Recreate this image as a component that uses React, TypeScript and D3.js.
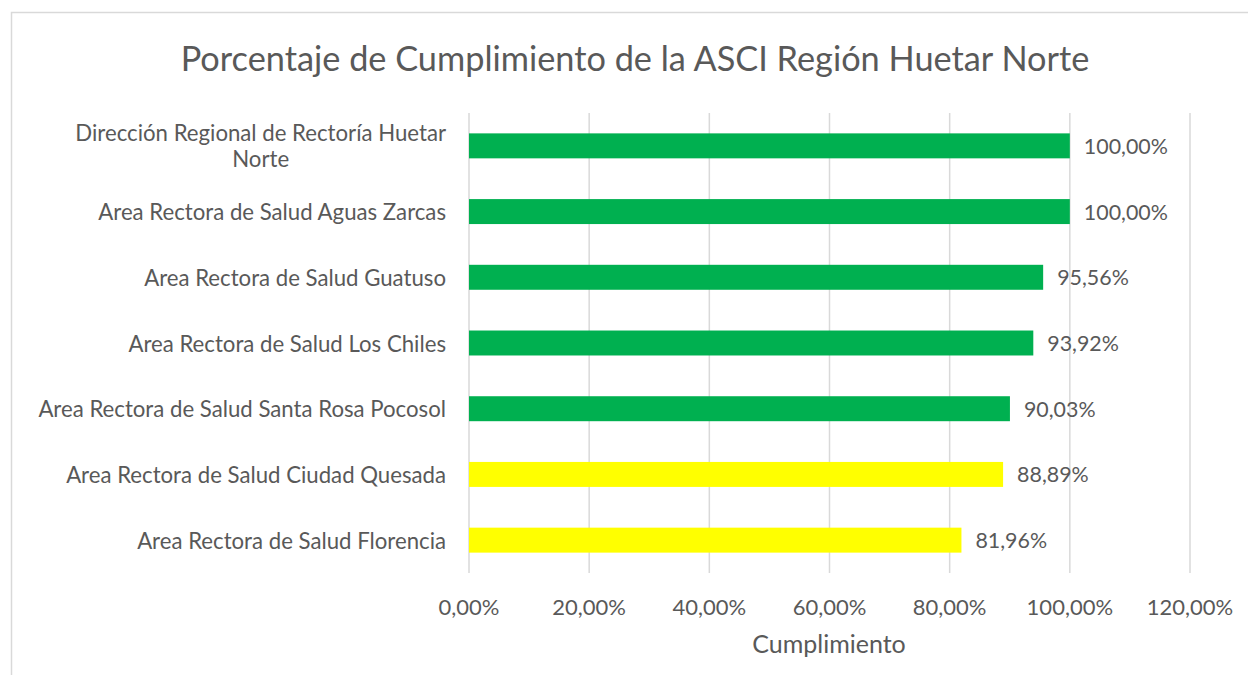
import React from "react";
import * as d3 from "d3";

const categories: string[] = [
  "Dirección Regional de Rectoría Huetar\nNorte",
  "Area Rectora de Salud Aguas Zarcas",
  "Area Rectora de Salud Guatuso",
  "Area Rectora de Salud Los Chiles",
  "Area Rectora de Salud Santa Rosa Pocosol",
  "Area Rectora de Salud Ciudad Quesada",
  "Area Rectora de Salud Florencia",
];
const values: number[] = [100.0, 100.0, 95.56, 93.92, 90.03, 88.89, 81.96];
const barColors: string[] = ["#00b050", "#00b050", "#00b050", "#00b050", "#00b050", "#ffff00", "#ffff00"];
const xTicks: number[] = [0, 20, 40, 60, 80, 100, 120];
const title = "Porcentaje de Cumplimiento de la ASCI Región Huetar Norte";
const xAxisTitle = "Cumplimiento";

const W = 1248;
const H = 675;
const FONT = "Lato, 'Open Sans', sans-serif";
const TEXT = "#595959";
const LABEL_SIZE = 22.2;
const TICK_SIZE = 22;
const DATA_SIZE = 21.4;

const fmt = (v: number) => v.toFixed(2).replace(".", ",") + "%";

function measure(text: string, size: number): number {
  const c = document.createElement("canvas").getContext("2d");
  if (!c) return text.length * size * 0.5;
  c.font = `${size}px Lato`;
  return c.measureText(text).width;
}

export default function App() {
  const x = d3.scaleLinear().domain([0, 120]).range([469, 1190]);
  const y = d3
    .scaleBand<string>()
    .domain(categories)
    .range([113, 573])
    .paddingInner(0.62)
    .paddingOuter(0.31);
  const labelRight = 446;

  return (
    <svg
      width={W}
      height={H}
      style={{ position: "absolute", left: 0, top: 0, fontFamily: FONT }}
    >
      <rect x={0} y={0} width={W} height={H} fill="#ffffff" />
      <rect x={11.5} y={12.5} width={W + 10} height={H + 10} fill="none" stroke="#d9d9d9" strokeWidth={1.5} />
      <text x={635} y={57} textAnchor="middle" dominantBaseline="central" fontSize={34.3} fill={TEXT}>
        {title}
      </text>
      {xTicks.map((t) => (
        <g key={t}>
          <line x1={x(t)} x2={x(t)} y1={113} y2={573} stroke="#d9d9d9" strokeWidth={1.5} />
          <text x={x(t)} y={606} textAnchor="middle" dominantBaseline="central" fontSize={TICK_SIZE} fill={TEXT}>
            {fmt(t)}
          </text>
        </g>
      ))}
      {categories.map((c, i) => {
        const yy = (y(c) ?? 0) + y.bandwidth() / 2;
        const lines = c.split("\n");
        let labelEl;
        if (lines.length === 1) {
          labelEl = (
            <text x={labelRight} y={yy} textAnchor="end" dominantBaseline="central" fontSize={LABEL_SIZE} fill={TEXT}>
              {c}
            </text>
          );
        } else {
          const w0 = measure(lines[0], LABEL_SIZE);
          const cx = labelRight - w0 / 2;
          const lh = 26;
          labelEl = (
            <g>
              {lines.map((ln, k) => (
                <text
                  key={k}
                  x={cx}
                  y={yy + (k - (lines.length - 1) / 2) * lh}
                  textAnchor="middle"
                  dominantBaseline="central"
                  fontSize={LABEL_SIZE}
                  fill={TEXT}
                >
                  {ln}
                </text>
              ))}
            </g>
          );
        }
        return (
          <g key={c}>
            {labelEl}
            <rect x={x(0)} y={y(c)} width={x(values[i]) - x(0)} height={y.bandwidth()} fill={barColors[i]} />
            <text x={x(values[i]) + 14} y={yy} dominantBaseline="central" fontSize={DATA_SIZE} fill={TEXT}>
              {fmt(values[i])}
            </text>
          </g>
        );
      })}
      <text x={829} y={643} textAnchor="middle" dominantBaseline="central" fontSize={25} fill={TEXT}>
        {xAxisTitle}
      </text>
    </svg>
  );
}
